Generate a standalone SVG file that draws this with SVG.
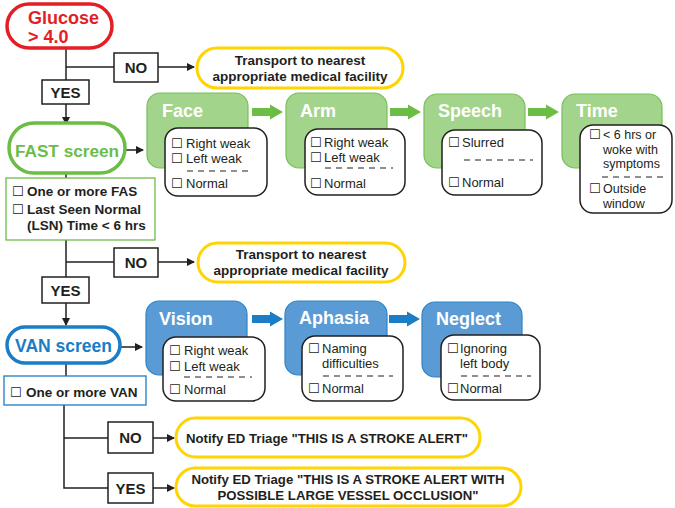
<svg xmlns="http://www.w3.org/2000/svg" width="675" height="508" viewBox="0 0 675 508">
<defs>
<marker id="ah" markerWidth="8" markerHeight="8" refX="7" refY="4" orient="auto" markerUnits="userSpaceOnUse">
<path d="M0,0 L8,4 L0,8 Z" fill="#231f20"/>
</marker>
<style>
text{font-family:"Liberation Sans",Arial,sans-serif;}
.ln{stroke:#231f20;stroke-width:1.5;fill:none;}
.lab{fill:#fff;stroke:#231f20;stroke-width:1.5;}
.labt{font-size:15px;font-weight:bold;fill:#231f20;text-anchor:middle;}
.yel{fill:#fff;stroke:#ffd400;stroke-width:3;}
.yt{font-size:13.5px;font-weight:bold;fill:#231f20;text-anchor:middle;}
.nt{font-size:13.2px;font-weight:bold;fill:#231f20;text-anchor:middle;}
.gh{fill:#a3d48c;stroke:#76c05a;stroke-width:1.2;}
.bh{fill:#5b9bd5;stroke:#2f84c6;stroke-width:1.2;}
.ht{font-size:18px;font-weight:bold;fill:#fff;}
.wb{fill:#fff;stroke:#231f20;stroke-width:1.5;}
.it{font-size:13px;fill:#231f20;}
.its{font-size:12.5px;fill:#231f20;}
.cb{font-family:"DejaVu Sans",sans-serif;font-size:13px;font-weight:normal;}
.dash{stroke:#231f20;stroke-width:1.2;stroke-dasharray:6,5;fill:none;}
.bt{font-size:13.5px;font-weight:bold;fill:#231f20;}
</style>
</defs>

<g id="connectors">
<path class="ln" d="M66,48 V80"/>
<path class="ln" d="M66,67 H114"/>
<path class="ln" d="M158,67 H194" marker-end="url(#ah)"/>
<path class="ln" d="M66,104 V124" marker-end="url(#ah)"/>
<path class="ln" d="M125,150 H143" marker-end="url(#ah)"/>
<path class="ln" d="M66,173 V178"/>
<path class="ln" d="M66,240 V277"/>
<path class="ln" d="M66,262 H114"/>
<path class="ln" d="M158,262 H194" marker-end="url(#ah)"/>
<path class="ln" d="M66,303 V325" marker-end="url(#ah)"/>
<path class="ln" d="M120,347 H142" marker-end="url(#ah)"/>
<path class="ln" d="M66,363 V376"/>
<path class="ln" d="M64,405 V488 H108"/>
<path class="ln" d="M64,438 H108"/>
<path class="ln" d="M153,438 H174" marker-end="url(#ah)"/>
<path class="ln" d="M153,488 H174" marker-end="url(#ah)"/>
<path d="M252,108 H270 V104.5 L283,112 L270,119.5 V116 H252 Z" fill="#6cbd45"/>
<path d="M390,108 H408 V104.5 L421,112 L408,119.5 V116 H390 Z" fill="#6cbd45"/>
<path d="M528,108 H546 V104.5 L559,112 L546,119.5 V116 H528 Z" fill="#6cbd45"/>
<path d="M252,315 H270 V311.5 L283,319 L270,326.5 V323 H252 Z" fill="#1a7dc5"/>
<path d="M389,315 H407 V311.5 L420,319 L407,326.5 V323 H389 Z" fill="#1a7dc5"/>
</g>

<g id="glucose">
<rect x="7" y="4" width="105" height="44" rx="22" fill="#fff" stroke="#e31e24" stroke-width="3.5"/>
<text x="28" y="24" font-size="18" font-weight="bold" fill="#e31e24">Glucose</text>
<text x="28" y="43" font-size="18" font-weight="bold" fill="#e31e24">&gt; 4.0</text>
</g>
<g id="no1"><rect class="lab" x="114" y="53" width="44" height="29"/><text class="labt" x="136" y="73">NO</text></g>
<g id="transport1">
<rect class="yel" x="197" y="48" width="206" height="40" rx="20"/>
<text class="yt" x="300" y="65">Transport to nearest</text>
<text class="yt" x="300" y="81">appropriate medical facility</text>
</g>
<g id="yes1"><rect class="lab" x="42" y="80" width="47" height="24"/><text class="labt" x="65.5" y="98">YES</text></g>

<g id="fast">
<rect x="9" y="123" width="116" height="50" rx="25" fill="#fff" stroke="#6cbd45" stroke-width="3.5"/>
<text x="67" y="157" font-size="17.2" font-weight="bold" fill="#6cbd45" text-anchor="middle">FAST screen</text>
</g>
<g id="fastcrit">
<rect x="6" y="178" width="149" height="62" fill="#fff" stroke="#6cbd45" stroke-width="1.3"/>
<text class="bt" y="196"><tspan class="cb" x="12">☐</tspan><tspan x="27">One or more FAS</tspan></text>
<text class="bt" y="214"><tspan class="cb" x="12">☐</tspan><tspan x="27">Last Seen Normal</tspan></text>
<text class="bt" x="27" y="230">(LSN) Time &lt; 6 hrs</text>
</g>

<g id="face">
<rect class="gh" x="147" y="93" width="101" height="75" rx="13"/>
<text class="ht" x="162" y="117">Face</text>
<rect class="wb" x="165" y="128" width="102" height="68" rx="13"/>
<text class="it" y="148"><tspan class="cb" x="171">☐</tspan><tspan x="186">Right weak</tspan></text>
<text class="it" y="163"><tspan class="cb" x="171">☐</tspan><tspan x="186">Left weak</tspan></text>
<path class="dash" d="M187,171 H253"/>
<text class="it" y="188"><tspan class="cb" x="171">☐</tspan><tspan x="186">Normal</tspan></text>
</g>
<g id="arm">
<rect class="gh" x="286" y="93" width="101" height="75" rx="13"/>
<text class="ht" x="300" y="117">Arm</text>
<rect class="wb" x="305" y="129" width="100" height="66" rx="13"/>
<text class="it" y="147"><tspan class="cb" x="310">☐</tspan><tspan x="324">Right weak</tspan></text>
<text class="it" y="162"><tspan class="cb" x="310">☐</tspan><tspan x="324">Left weak</tspan></text>
<path class="dash" d="M325,168 H393"/>
<text class="it" y="188"><tspan class="cb" x="310">☐</tspan><tspan x="324">Normal</tspan></text>
</g>
<g id="speech">
<rect class="gh" x="424" y="94" width="101" height="74" rx="13"/>
<text class="ht" x="438" y="117">Speech</text>
<rect class="wb" x="442" y="130" width="100" height="65" rx="13"/>
<text class="it" y="147"><tspan class="cb" x="448">☐</tspan><tspan x="462">Slurred</tspan></text>
<path class="dash" d="M464,160 H533"/>
<text class="it" y="187"><tspan class="cb" x="448">☐</tspan><tspan x="462">Normal</tspan></text>
</g>
<g id="time">
<rect class="gh" x="562" y="94" width="100" height="74" rx="13"/>
<text class="ht" x="576" y="117">Time</text>
<rect class="wb" x="580" y="125" width="92" height="88" rx="13"/>
<text class="its" y="139"><tspan class="cb" x="589">☐</tspan><tspan x="603">&lt; 6 hrs or</tspan></text>
<text class="its" x="603" y="153.5">woke with</text>
<text class="its" x="603" y="168">symptoms</text>
<path class="dash" d="M602,177 H668"/>
<text class="its" y="193"><tspan class="cb" x="589">☐</tspan><tspan x="603">Outside</tspan></text>
<text class="its" x="603" y="207.5">window</text>
</g>

<g id="no2"><rect class="lab" x="114" y="248" width="44" height="29"/><text class="labt" x="136" y="268">NO</text></g>
<g id="transport2">
<rect class="yel" x="198" y="243" width="207" height="39" rx="19.5"/>
<text class="yt" x="301" y="259">Transport to nearest</text>
<text class="yt" x="301" y="275">appropriate medical facility</text>
</g>
<g id="yes2"><rect class="lab" x="42" y="277" width="47" height="26"/><text class="labt" x="65.5" y="296">YES</text></g>

<g id="van">
<rect x="7" y="327" width="113" height="36" rx="18" fill="#fff" stroke="#1a7dc5" stroke-width="3.5"/>
<text x="63.5" y="352" font-size="17.5" font-weight="bold" fill="#1a7dc5" text-anchor="middle">VAN screen</text>
</g>
<g id="vancrit">
<rect x="4" y="376" width="142" height="29" fill="#fff" stroke="#1a7dc5" stroke-width="1.3"/>
<text class="bt" y="397"><tspan class="cb" x="10">☐</tspan><tspan x="26">One or more VAN</tspan></text>
</g>

<g id="vision">
<rect class="bh" x="146" y="301" width="101" height="74" rx="13"/>
<text class="ht" x="159" y="325">Vision</text>
<rect class="wb" x="163" y="337" width="102" height="64" rx="13"/>
<text class="it" y="355"><tspan class="cb" x="169">☐</tspan><tspan x="184">Right weak</tspan></text>
<text class="it" y="371"><tspan class="cb" x="169">☐</tspan><tspan x="184">Left weak</tspan></text>
<path class="dash" d="M184,377 H252"/>
<text class="it" y="394"><tspan class="cb" x="169">☐</tspan><tspan x="184">Normal</tspan></text>
</g>
<g id="aphasia">
<rect class="bh" x="285" y="301" width="102" height="74" rx="13"/>
<text class="ht" x="299" y="324">Aphasia</text>
<rect class="wb" x="302" y="336" width="101" height="65" rx="13"/>
<text class="it" y="353"><tspan class="cb" x="308">☐</tspan><tspan x="322">Naming</tspan></text>
<text class="it" x="322" y="368">difficulties</text>
<path class="dash" d="M323,376 H393"/>
<text class="it" y="393"><tspan class="cb" x="308">☐</tspan><tspan x="322">Normal</tspan></text>
</g>
<g id="neglect">
<rect class="bh" x="422" y="302" width="100" height="75" rx="13"/>
<text class="ht" x="436" y="325">Neglect</text>
<rect class="wb" x="441" y="335" width="99" height="65" rx="13"/>
<text class="it" y="353"><tspan class="cb" x="447">☐</tspan><tspan x="460">Ignoring</tspan></text>
<text class="it" x="460" y="368">left body</text>
<path class="dash" d="M461,376 H531"/>
<text class="it" y="393"><tspan class="cb" x="447">☐</tspan><tspan x="460">Normal</tspan></text>
</g>

<g id="no3"><rect class="lab" x="108" y="422" width="45" height="31"/><text class="labt" x="130.5" y="443">NO</text></g>
<g id="notify1">
<rect class="yel" x="176" y="418" width="304" height="39" rx="19.5"/>
<text class="nt" x="327" y="443">Notify ED Triage "THIS IS A STROKE ALERT"</text>
</g>
<g id="yes3"><rect class="lab" x="108" y="473" width="45" height="30"/><text class="labt" x="130.5" y="494">YES</text></g>
<g id="notify2">
<rect class="yel" x="176" y="468" width="345" height="38" rx="19"/>
<text class="nt" x="348" y="484">Notify ED Triage "THIS IS A STROKE ALERT WITH</text>
<text class="nt" x="348" y="500">POSSIBLE LARGE VESSEL OCCLUSION"</text>
</g>
</svg>
